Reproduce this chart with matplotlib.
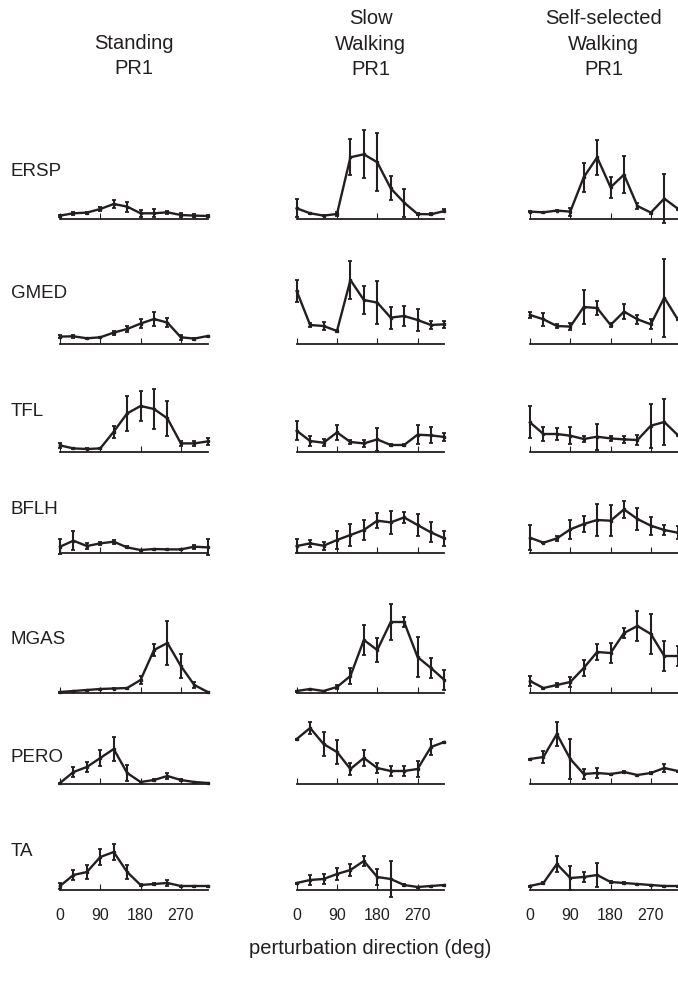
import numpy as np
import matplotlib
matplotlib.use("Agg")
import matplotlib.pyplot as plt

plt.rcParams['font.family'] = ['Liberation Sans', 'DejaVu Sans']

# perturbation directions (deg)
directions = np.arange(0, 360, 30)

conditions = ["Standing\nPR1", "Slow\nWalking\nPR1", "Self-selected\nWalking\nPR1"]
muscles = ["ERSP", "GMED", "TFL", "BFLH", "MGAS", "PERO", "TA"]

# mean tuning curves (arbitrary units), rows: standing, slow, self-selected
ERSP_mean = [
    [3.7, 6.0, 6.7, 10.3, 15.3, 12.7, 6.0, 6.0, 7.0, 4.3, 3.7, 3.3],
    [11.0, 6.0, 3.7, 5.3, 62.0, 65.0, 57.0, 31.0, 16.7, 5.3, 5.0, 8.3],
    [7.7, 7.0, 8.7, 7.7, 42.0, 62.0, 32.0, 44.7, 13.3, 6.7, 20.7, 10.7],
]
ERSP_err = [
    [1.0, 1.7, 1.0, 2.0, 4.0, 5.0, 3.3, 4.0, 1.7, 1.7, 1.3, 0.7],
    [9.0, 0.5, 0.5, 2.0, 18.0, 24.0, 29.0, 12.0, 14.0, 1.0, 1.0, 1.5],
    [0.5, 0.5, 0.5, 4.0, 14.5, 17.7, 10.7, 18.3, 2.7, 1.0, 24.7, 1.0],
]
GMED_mean = [
    [7.7, 8.0, 6.0, 7.0, 11.7, 15.3, 20.7, 25.3, 21.7, 7.0, 5.7, 8.3],
    [53.3, 19.3, 18.3, 13.3, 64.3, 44.3, 41.7, 26.7, 28.3, 24.3, 19.3, 20.0],
    [29.3, 25.0, 18.3, 17.7, 37.3, 36.3, 19.3, 32.7, 25.0, 20.0, 46.7, 25.0],
]
GMED_err = [
    [1.3, 1.7, 0.5, 0.5, 2.0, 2.7, 4.7, 7.3, 4.7, 2.7, 1.0, 0.5],
    [11.3, 1.7, 4.0, 1.3, 19.3, 14.3, 21.3, 11.0, 10.3, 11.0, 4.0, 3.3],
    [3.3, 6.7, 1.7, 3.3, 16.7, 6.7, 1.7, 7.3, 4.7, 5.0, 39.0, 1.0],
]
TFL_mean = [
    [6.3, 3.3, 2.7, 3.3, 20.0, 38.3, 45.7, 42.7, 33.3, 8.3, 8.3, 10.3],
    [21.0, 10.7, 9.0, 19.3, 9.7, 8.3, 12.3, 6.7, 6.7, 17.0, 16.3, 14.7],
    [29.3, 17.7, 17.7, 16.0, 12.7, 15.0, 13.3, 12.3, 11.7, 26.0, 29.7, 16.7],
]
TFL_err = [
    [2.7, 0.5, 0.5, 0.5, 6.0, 17.7, 15.0, 20.0, 17.7, 2.7, 2.7, 3.3],
    [9.3, 4.7, 3.3, 7.3, 1.7, 3.3, 11.7, 1.3, 1.3, 9.3, 8.0, 4.0],
    [16.0, 7.3, 6.0, 8.3, 3.3, 13.0, 2.7, 3.3, 4.7, 22.0, 23.0, 1.0],
]
BFLH_mean = [
    [6.0, 12.0, 6.7, 9.3, 11.0, 5.3, 2.7, 3.7, 3.3, 3.3, 6.0, 5.3],
    [6.7, 9.3, 7.0, 12.7, 17.7, 22.7, 32.0, 30.3, 35.3, 27.7, 20.3, 14.3],
    [15.0, 10.0, 14.3, 23.3, 28.7, 32.7, 32.0, 43.3, 33.7, 27.0, 22.7, 20.0],
]
BFLH_err = [
    [7.3, 9.3, 2.7, 1.7, 2.0, 1.0, 0.5, 0.5, 0.5, 0.5, 2.0, 8.0],
    [6.7, 3.3, 4.0, 9.3, 10.7, 10.3, 7.3, 11.7, 5.7, 11.3, 10.0, 7.3],
    [12.3, 0.5, 2.7, 9.3, 8.3, 16.0, 15.7, 8.3, 10.7, 9.0, 5.3, 6.7],
]
MGAS_mean = [
    [1.0, 2.0, 3.0, 4.0, 4.5, 5.0, 13.0, 43.0, 50.0, 27.0, 8.0, 1.0],
    [2.0, 4.0, 2.0, 6.0, 17.0, 53.0, 43.0, 71.0, 71.0, 36.0, 25.0, 13.0],
    [12.0, 5.0, 8.0, 11.0, 25.0, 41.0, 40.0, 60.0, 67.0, 59.0, 37.0, 37.0],
]
MGAS_err = [
    [0.5, 0.5, 0.5, 0.5, 0.5, 0.5, 4.0, 6.0, 22.0, 12.0, 3.0, 0.5],
    [0.5, 0.5, 0.5, 2.0, 8.0, 15.0, 12.0, 18.0, 5.0, 20.0, 10.0, 10.0],
    [5.0, 0.5, 2.0, 5.0, 8.0, 8.0, 10.0, 5.0, 15.0, 20.0, 15.0, 10.0],
]
PERO_mean = [
    [1.0, 12.0, 17.0, 26.0, 35.0, 11.0, 2.0, 4.0, 8.0, 4.0, 2.0, 1.0],
    [45.0, 56.0, 40.0, 32.0, 15.0, 26.0, 16.0, 13.0, 13.0, 15.0, 37.0, 42.0],
    [25.0, 27.0, 50.0, 25.0, 10.0, 11.0, 10.0, 12.0, 9.0, 11.0, 16.0, 13.0],
]
PERO_err = [
    [0.5, 5.0, 5.0, 8.0, 12.0, 8.0, 0.5, 1.0, 3.0, 1.0, 0.5, 0.5],
    [0.5, 6.0, 12.0, 12.0, 6.0, 8.0, 5.0, 5.0, 5.0, 8.0, 8.0, 0.5],
    [0.5, 6.0, 12.0, 20.0, 5.0, 5.0, 0.5, 1.0, 0.5, 1.0, 4.0, 0.5],
]
TA_mean = [
    [4.0, 15.0, 18.0, 33.0, 38.0, 18.0, 5.0, 6.0, 7.0, 4.0, 4.0, 4.0],
    [7.0, 10.0, 11.0, 16.0, 20.0, 29.0, 13.0, 11.0, 5.0, 3.0, 4.0, 5.0],
    [4.0, 7.0, 26.0, 12.0, 13.0, 15.0, 8.0, 7.0, 6.0, 5.0, 4.0, 4.0],
]
TA_err = [
    [3.0, 5.0, 7.0, 8.0, 8.0, 7.0, 1.0, 1.0, 3.0, 0.5, 0.5, 0.5],
    [0.5, 5.0, 5.0, 6.0, 6.0, 5.0, 8.0, 18.0, 1.0, 0.5, 0.5, 0.5],
    [0.5, 1.0, 8.0, 12.0, 5.0, 12.0, 1.0, 1.0, 0.5, 0.5, 0.5, 0.5],
]

means = [ERSP_mean, GMED_mean, TFL_mean, BFLH_mean, MGAS_mean, PERO_mean, TA_mean]
errs = [ERSP_err, GMED_err, TFL_err, BFLH_err, MGAS_err, PERO_err, TA_err]

# layout in pixels
W, H = 678, 992
col_left = [60, 296.7, 530]
col_width = 147.7
row_base = [219.3, 344.3, 451.7, 552.7, 693, 784, 890]
row_label_y = [172, 293, 412, 510, 640, 758, 851]
ax_h = 100

ink = '#231f20'

fig = plt.figure(figsize=(W / 100, H / 100), dpi=100)

for r, muscle in enumerate(muscles):
    fig.text(11 / W, 1 - row_label_y[r] / H, muscle, fontsize=13.5,
             color=ink, ha='left', va='center')
    for c in range(3):
        ax = fig.add_axes([col_left[c] / W, 1 - row_base[r] / H,
                           col_width / W, ax_h / H])
        ax.patch.set_alpha(0)
        ax.errorbar(directions, means[r][c], yerr=errs[r][c], color=ink,
                    lw=1.7, elinewidth=1.5, capsize=1.2, capthick=1.3,
                    marker='s', markersize=1.8, clip_on=False)
        ax.set_xlim(0, 330)
        ax.set_ylim(0, ax_h)
        for s in ['top', 'right', 'left']:
            ax.spines[s].set_visible(False)
        ax.spines['bottom'].set_linewidth(1.3)
        ax.spines['bottom'].set_color(ink)
        ax.set_yticks([])
        ax.set_xticks([0, 90, 180, 270])
        ax.tick_params(axis='x', direction='in', length=4, width=0.8,
                       color=ink, labelsize=11.5, labelcolor=ink, pad=13)
        if r < len(muscles) - 1:
            ax.set_xticklabels([])

for c, title in enumerate(conditions):
    nlines = title.count('\n') + 1
    cx = col_left[c] + col_width / 2
    cy = 68 - (nlines - 1) * 12
    fig.text(cx / W, 1 - cy / H, title, fontsize=14.5, color=ink,
             ha='center', va='center', linespacing=1.45)

fig.text(370 / W, 1 - 948 / H, 'perturbation direction (deg)', fontsize=14.5,
         color=ink, ha='center', va='center')

fig.savefig('out.png', dpi=100)
